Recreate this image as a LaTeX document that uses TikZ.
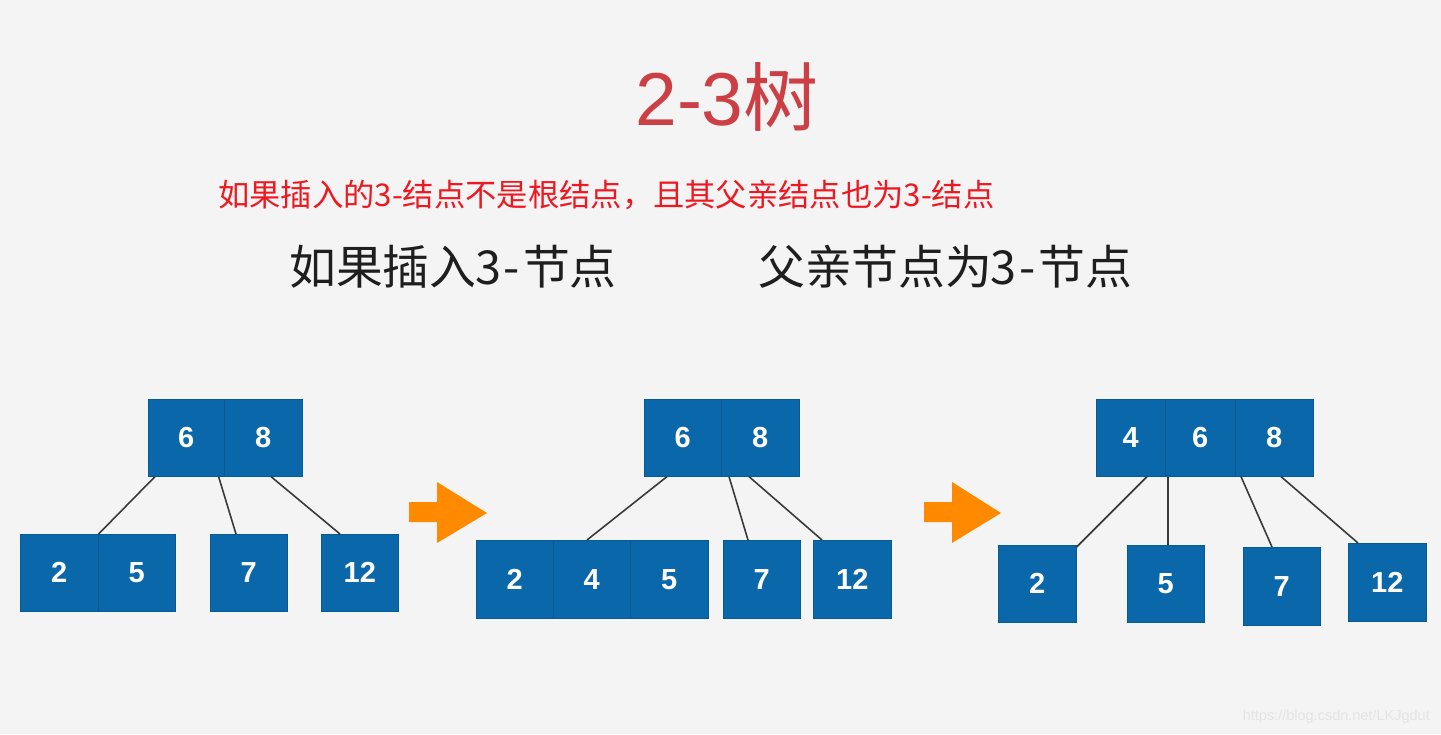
\documentclass[tikz,border=0pt]{standalone}
\usepackage{fontspec}
\setmainfont{Noto Sans CJK SC}
\newfontfamily\numfont{Liberation Sans}
\definecolor{bgc}{HTML}{F4F4F4}
\definecolor{boxblue}{HTML}{0A67A9}
\definecolor{boxedge}{HTML}{085A94}
\definecolor{titlered}{HTML}{CC3F45}
\definecolor{notered}{HTML}{F01820}
\definecolor{darktext}{HTML}{1E1E1E}
\definecolor{edgec}{HTML}{3A3A3A}
\definecolor{arroworange}{HTML}{FF8A00}
\definecolor{wmark}{HTML}{E4E4E4}
\tikzset{
  keybox/.style={fill=boxblue, draw=boxedge, line width=0.6pt, minimum width=#1,
    minimum height=77pt, inner sep=0pt, anchor=north west, text=white,
    font=\numfont\bfseries\fontsize{29}{29}\selectfont},
  link/.style={draw=edgec, line width=1.6pt},
  bigarrow/.style={fill=arroworange},
}
\newcommand{\hw}[1]{\makebox[0.5em]{#1}}
\begin{document}
\begin{tikzpicture}[x=1pt,y=-1pt]
\useasboundingbox (0,0) rectangle (1441,734);
\fill[bgc] (0,0) rectangle (1441,734);

% title and texts
\node[text=titlered, font=\fontsize{75}{75}\selectfont, inner sep=0pt] (title) at (727,97) {{\numfont 2-3}树};
\node[text=notered, font=\fontsize{31.3}{31.3}\selectfont, inner sep=0pt, anchor=west] (note) at (218,195) {如果插入的3-结点不是根结点，且其父亲结点也为3-结点};
\node[text=darktext, font=\fontsize{46.8}{46.8}\selectfont, inner sep=0pt, anchor=west] (lab1) at (289,267) {如果插入\hw{3}\hw{-}节点};
\node[text=darktext, font=\fontsize{46.8}{46.8}\selectfont, inner sep=0pt, anchor=west] (lab2) at (758,267) {父亲节点为\hw{3}\hw{-}节点};

% tree 1
\node[keybox=76pt] (a6) at (148,399) {6};
\node[keybox=78pt] (a8) at (224,399) {8};
\node[keybox=78pt] (a2) at (20,534) {2};
\node[keybox=77pt] (a5) at (98,534) {5};
\node[keybox=77pt] (a7) at (210,534) {7};
\node[keybox=77pt] (a12) at (321,534) {12};
\draw[link] ([xshift=7pt]a6.south west) -- (a2.north east);
\draw[link] ([xshift=-6pt]a6.south east) -- ([xshift=26pt]a7.north west);
\draw[link] ([xshift=47pt]a8.south west) -- ([xshift=19pt]a12.north west);

% arrow 1
\fill[bigarrow] (409,502) -- (437,502) -- (437,482) -- (487,513) -- (437,543) -- (437,522) -- (409,522) -- cycle;

% tree 2
\node[keybox=77pt] (b6) at (644,399) {6};
\node[keybox=78pt] (b8) at (721,399) {8};
\node[keybox=77pt, minimum height=78pt] (b2) at (476,540) {2};
\node[keybox=77pt, minimum height=78pt] (b4) at (553,540) {4};
\node[keybox=78pt, minimum height=78pt] (b5) at (630,540) {5};
\node[keybox=77pt, minimum height=78pt] (b7) at (723,540) {7};
\node[keybox=78pt, minimum height=78pt] (b12) at (813,540) {12};
\draw[link] ([xshift=23pt]b6.south west) -- ([xshift=34pt]b4.north west);
\draw[link] ([xshift=8pt]b8.south west) -- ([xshift=25pt]b7.north west);
\draw[link] ([xshift=28pt]b8.south west) -- ([xshift=9pt]b12.north west);

% arrow 2
\fill[bigarrow] (924,502) -- (952,502) -- (952,482) -- (1001,513) -- (952,543) -- (952,522) -- (924,522) -- cycle;

% tree 3
\node[keybox=69pt] (c4) at (1096,399) {4};
\node[keybox=70pt] (c6) at (1165,399) {6};
\node[keybox=78pt] (c8) at (1235,399) {8};
\node[keybox=78pt] (c2) at (998,545) {2};
\node[keybox=77pt] (c5) at (1127,545) {5};
\node[keybox=77pt, minimum height=78pt] (c7) at (1243,547) {7};
\node[keybox=78pt, minimum height=78pt] (c12) at (1348,543) {12};
\draw[link] ([xshift=51pt]c4.south west) -- ([yshift=-2pt]c2.north east);
\draw[link] ([xshift=3pt]c6.south west) -- ([xshift=41pt]c5.north west);
\draw[link] ([xshift=6pt]c8.south west) -- ([xshift=29pt]c7.north west);
\draw[link] ([xshift=46pt]c8.south west) -- ([xshift=10pt]c12.north west);

% watermark
\node[text=wmark, font=\numfont\fontsize{14.5}{14.5}\selectfont, inner sep=0pt, anchor=east] (wm) at (1430,717) {https://blog.csdn.net/LKJgdut};
\end{tikzpicture}
\end{document}
